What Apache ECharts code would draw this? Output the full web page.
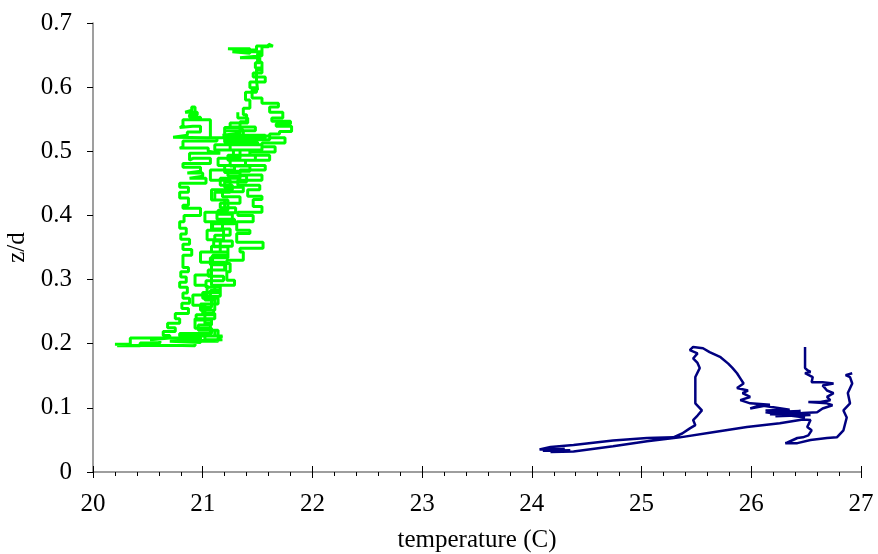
<!DOCTYPE html>
<html>
<head>
<meta charset="utf-8">
<script src="https://cdn.jsdelivr.net/npm/echarts@6/dist/echarts.min.js"></script>
<style>html,body{margin:0;padding:0;background:#fff;}#c{width:878px;height:554px;}</style>
</head>
<body>
<div id="c"></div>
<script>
const xTicks = [20, 21, 22, 23, 24, 25, 26, 27];
const yTicks = [0, 0.1, 0.2, 0.3, 0.4, 0.5, 0.6, 0.7];
const xTitle = 'temperature (C)';
const yTitle = 'z/d';

// green trajectory (temperature, z/d)
const greenT = [
20.22,20.43,20.61,20.52,20.70,20.64,20.75,20.68,20.79,20.75,20.87,20.81,20.88,20.82,20.86,20.79,20.85,20.80,20.87,20.82,
20.82,20.90,20.82,20.88,20.80,20.85,20.79,20.83,20.98,20.82,20.87,20.79,20.87,20.79,21.03,20.88,21.00,20.86,20.98,20.82,
21.07,20.91,20.88,21.16,21.05,20.79,20.82,21.13,21.04,20.73,20.86,20.98,20.91,20.79,20.82,20.98,20.88,20.95,20.84,20.90,
20.93,21.07,21.34,21.20,21.48,21.37,21.34,21.40,21.37,21.43,21.39,21.49,21.43,21.57,21.46,21.54,21.48,21.52,21.34,21.54,
21.27,21.43,21.23,21.49,21.64,21.60,
21.54,21.50,21.54,21.49,21.50,21.45,21.54,21.69,21.61,21.73,21.63,21.80,21.67,21.81,21.70,21.61,21.75,21.54,21.66,21.43,
21.61,21.39,21.57,21.34,21.54,21.32,21.52,21.41,21.54,21.46,21.54,21.32,21.46,21.31,21.43,21.31,21.55,21.34,21.37,21.22,
21.25,21.22,21.29,
21.11,21.16,21.02,21.08,21.00,21.11,21.02,21.07,21.14,21.02,21.18,20.70,20.98,20.34,20.20,
20.93,21.07,21.02,21.11,21.07,21.16,21.08,21.20,21.09,21.23,21.10,21.19,21.08,21.27,21.14,21.23,21.08,21.27,21.16,21.34,
21.20,21.39,21.23,21.43,21.25,21.50,21.29,21.57,21.18,21.34,
21.20,21.48,21.11,21.34,21.14,21.29,21.07,21.25,21.11,21.20,21.02,21.18,21.04,21.16,20.98,21.08,20.93,21.04,20.91,21.02,
20.93,21.08,20.79,21.18,21.14,
20.98,21.11,20.96,21.08,20.94,21.10,20.98,21.14,21.00,21.16,21.03,21.19,21.05,21.21,21.07,21.23,21.08,21.27,21.11,21.25,
21.09,21.29,21.13,21.30,21.16,21.34,21.18,21.37,21.20,21.40,21.23,21.43,21.25,21.48,21.28,21.54,21.25,21.61,21.20,21.48,
21.25,21.41,21.32
];
const greenZ = [
0.197,0.201,0.206,0.209,0.213,0.219,0.225,0.232,0.239,0.247,0.255,0.263,0.271,0.279,0.288,0.296,0.304,0.312,0.319,0.327,
0.338,0.347,0.355,0.363,0.371,0.380,0.390,0.400,0.411,0.416,0.427,0.436,0.444,0.450,0.458,0.461,0.466,0.469,0.475,0.481,
0.489,0.486,0.497,0.500,0.505,0.507,0.516,0.521,0.522,0.525,0.530,0.539,0.537,0.539,0.549,0.553,0.557,0.561,0.564,0.569,
0.549,0.521,0.522,0.514,0.518,0.533,0.546,0.557,0.567,0.580,0.592,0.599,0.608,0.616,0.622,0.630,0.638,0.646,0.649,0.655,
0.653,0.660,0.658,0.664,0.667,0.663,
0.652,0.639,0.627,0.611,0.596,0.583,0.575,0.569,0.561,0.552,0.547,0.543,0.539,0.531,0.527,0.521,0.513,0.507,0.499,0.494,
0.486,0.478,0.471,0.463,0.455,0.447,0.440,0.430,0.425,0.414,0.405,0.400,0.390,0.377,0.372,0.358,0.349,0.343,0.330,0.325,
0.312,0.299,0.291,
0.283,0.274,0.268,0.257,0.247,0.239,0.232,0.221,0.212,0.206,0.204,0.202,0.209,0.199,0.197,
0.216,0.229,0.252,0.268,0.283,0.291,0.315,0.327,0.338,0.351,0.362,0.377,0.390,0.402,0.408,0.424,0.440,0.447,0.458,0.467,
0.478,0.486,0.494,0.502,0.510,0.514,0.521,0.525,0.528,0.537,
0.518,0.510,0.502,0.489,0.478,0.471,0.455,0.436,0.424,0.405,0.390,0.377,0.362,0.343,0.327,0.307,0.291,0.276,0.260,0.239,
0.224,0.216,0.212,0.209,0.204,
0.212,0.221,0.229,0.237,0.245,0.252,0.262,0.271,0.280,0.288,0.298,0.305,0.315,0.323,0.334,0.343,0.352,0.360,0.369,0.379,
0.387,0.394,0.404,0.412,0.419,0.429,0.437,0.444,0.452,0.462,0.469,0.477,0.486,0.494,0.502,0.510,0.518,0.524,0.532,0.538,
0.544,0.552,0.561
];

// blue trajectory (temperature, z/d)
const blueT = [
26.49,26.49,26.51,26.54,26.49,26.56,26.55,26.65,26.75,26.65,26.69,26.75,26.69,26.72,26.63,26.52,26.69,26.74,26.65,26.60,
26.47,26.22,26.54,26.17,26.45,26.13,
26.35,26.49,26.26,26.13,26.35,26.08,25.99,26.17,25.99,25.90,25.99,25.92,25.97,25.87,25.93,25.90,25.87,25.83,25.79,
25.72,25.62,25.56,25.47,25.44,25.51,25.47,25.51,25.53,25.49,25.49,25.49,25.55,25.51,25.47,25.49,25.44,25.37,25.29,25.05,
24.74,24.38,24.17,24.07,24.30,24.10,24.35,24.17,24.38,24.74,25.05,25.35,25.65,25.96,26.26,26.47,26.54,26.51,26.55,26.52,26.47,26.42,26.33,
26.31,26.42,26.54,26.69,26.78,26.84,26.87,26.84,26.90,26.88,26.92,26.90,26.86,26.92
];
const blueZ = [
0.195,0.162,0.159,0.156,0.154,0.148,0.140,0.140,0.138,0.135,0.127,0.123,0.117,0.112,0.109,0.109,0.107,0.104,0.099,0.093,
0.092,0.087,0.089,0.090,0.095,0.093,
0.088,0.085,0.093,0.096,0.097,0.104,0.099,0.105,0.107,0.112,0.117,0.123,0.127,0.131,0.138,0.146,0.154,0.162,0.169,
0.179,0.187,0.193,0.195,0.190,0.185,0.177,0.170,0.162,0.148,0.127,0.107,0.096,0.088,0.081,0.073,0.068,0.060,0.054,0.053,
0.049,0.042,0.039,0.035,0.036,0.033,0.034,0.031,0.032,0.040,0.048,0.054,0.062,0.070,0.076,0.082,0.081,0.070,0.065,0.057,0.054,0.053,0.046,
0.045,0.045,0.050,0.053,0.054,0.065,0.085,0.096,0.107,0.123,0.138,0.148,0.151,0.154
];

const pair = (a, b) => a.map((v, i) => [v, b[i]]);
const FONT = 'Liberation Serif';
const chart = echarts.init(document.getElementById('c'), null, {renderer: 'canvas'});
const axisCol = '#7f7f7f';
chart.setOption({
  animation: false,
  backgroundColor: '#ffffff',
  grid: {left: 93, right: 17, top: 23, bottom: 82, containLabel: false, outerBoundsMode: 'none'},
  xAxis: [{
    type: 'value', min: xTicks[0], max: xTicks[xTicks.length - 1], interval: 1,
    name: xTitle, nameLocation: 'middle', nameGap: 56,
    nameTextStyle: {fontFamily: FONT, fontSize: 25, color: '#000'},
    axisLine: {show: true, onZero: false, lineStyle: {color: axisCol, width: 1.5}},
    axisTick: {show: true, length: 6, lineStyle: {color: '#000', width: 1}},
    minorTick: {show: true, splitNumber: 5, length: 4, lineStyle: {color: '#000', width: 1}},
    splitLine: {show: false},
    axisLabel: {fontFamily: FONT, fontSize: 25, color: '#000', margin: 20}
  }, {
    type: 'value', min: xTicks[0], max: xTicks[xTicks.length - 1], interval: 1, position: 'bottom',
    axisLine: {show: false},
    axisTick: {show: true, inside: true, length: 6, lineStyle: {color: '#000', width: 1}},
    axisLabel: {show: false}, splitLine: {show: false}
  }],
  yAxis: {
    type: 'value', min: yTicks[0], max: yTicks[yTicks.length - 1], interval: 0.1,
    name: yTitle, nameLocation: 'middle', nameGap: 62, nameRotate: 90,
    nameTextStyle: {fontFamily: FONT, fontSize: 25, color: '#000'},
    axisLine: {show: true, onZero: false, lineStyle: {color: axisCol, width: 1.5}},
    axisTick: {show: true, length: 6, lineStyle: {color: '#000', width: 1}},
    splitLine: {show: false},
    axisLabel: {fontFamily: FONT, fontSize: 25, color: '#000', margin: 21,
      formatter: v => String(Math.round(v * 10) / 10)}
  },
  series: [{
    type: 'line', name: 'green', data: pair(greenT, greenZ), showSymbol: false, symbol: 'none',
    step: 'end',
    lineStyle: {color: '#00ff00', width: 3}, itemStyle: {color: '#00ff00'}, z: 3
  }, {
    type: 'line', name: 'blue', data: pair(blueT, blueZ), showSymbol: false, symbol: 'none',
    lineStyle: {color: '#000080', width: 2.5}, itemStyle: {color: '#000080'}, z: 3
  }]
});
</script>
</body>
</html>
